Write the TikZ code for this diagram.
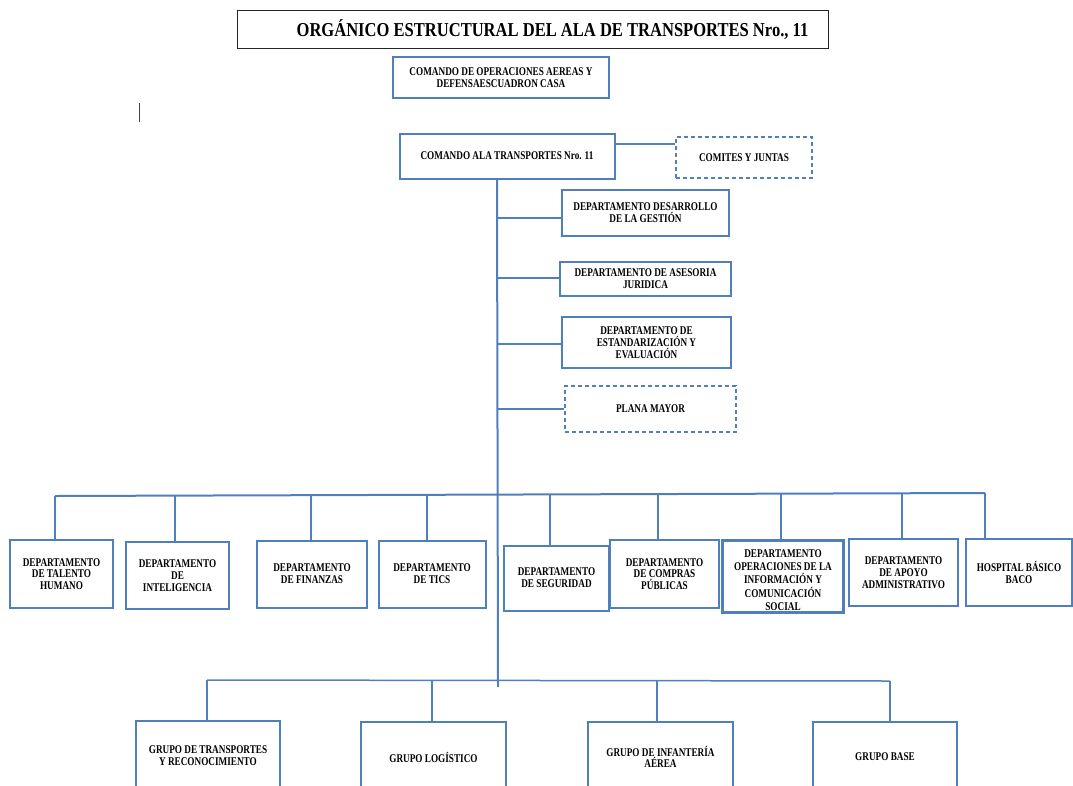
\documentclass[tikz,border=0pt]{standalone}
\usepackage{fontspec}
\newfontfamily\orgfont[FakeStretch=0.78]{Liberation Serif}
\newfontfamily\ttlfont[FakeStretch=0.84]{Liberation Serif}
\usetikzlibrary{calc}
\definecolor{blu}{HTML}{4F7FBC}
\begin{document}
\begin{tikzpicture}[x=1pt,y=-1pt,
  txt/.style={align=center,inner sep=0pt,font=\orgfont\bfseries\fontsize{11.8}{11.8}\selectfont},
  box/.style={txt,draw=blu,line width=2pt},
  dbox/.style={box,dash pattern=on 4pt off 3pt},
  conn/.style={draw=blu,line width=2pt},
  bconn/.style={draw=blu,line width=1.5pt}]
\useasboundingbox (0,0) rectangle (1073,785);
\clip (0,0) rectangle (1073,785);
% title
\node[draw=black!85,line width=0.9pt,minimum width=591pt,minimum height=38pt,inner sep=0pt] (title) at (532.5,29) {};
\node[txt,font=\ttlfont\bfseries\fontsize{19.7}{22}\selectfont] (titletext) at (552.5,29.5) {ORGÁNICO ESTRUCTURAL DEL ALA DE TRANSPORTES Nro., 11};
% top
\node[box,minimum width=216pt,minimum height=41pt] (cod) at (501,77.5) {COMANDO DE OPERACIONES AEREAS Y\\DEFENSAESCUADRON CASA};
\draw[black!75,line width=1pt] (139,103) -- (139,122);
\node[box,minimum width=215pt,minimum height=45pt] (cat) at (507,156) {COMANDO ALA TRANSPORTES Nro. 11};
\node[dbox,minimum width=136pt,minimum height=41pt] (cyj) at (744,157.5) {COMITES Y JUNTAS};
\coordinate (c1) at (cat.east |- 0,144);
\draw[conn] (c1) -- (c1 -| cyj.west);
% staff
\node[box,minimum width=167pt,minimum height=46pt] (des) at (645.5,213) {DEPARTAMENTO DESARROLLO\\DE LA GESTIÓN};
\node[box,minimum width=171pt,minimum height=34pt] (ase) at (645.5,279) {DEPARTAMENTO DE ASESORIA\\JURIDICA};
\node[box,minimum width=169pt,minimum height=51pt] (est) at (646.5,342.5) {DEPARTAMENTO DE\\ESTANDARIZACIÓN Y\\EVALUACIÓN};
\node[dbox,minimum width=171pt,minimum height=46pt] (pla) at (650.5,409) {PLANA MAYOR};
% trunk
\coordinate (ttop) at (497,178);
\coordinate (tbot) at (498,687);
\draw[conn] (ttop) -- (tbot);
\coordinate (j1) at (497,218);
\coordinate (j2) at (497,278);
\coordinate (j3) at (497,344);
\coordinate (j4) at (497,409);
\draw[conn] (j1) -- (j1 -| des.west);
\draw[conn] (j2) -- (j2 -| ase.west);
\draw[conn] (j3) -- (j3 -| est.west);
\draw[conn] (j4) -- (j4 -| pla.west);
% departments row
\node[box,minimum width=103pt,minimum height=68pt] (tal) at (61.5,574) {DEPARTAMENTO\\DE TALENTO\\HUMANO};
\node[box,minimum width=103pt,minimum height=67pt] (int) at (177.5,575.5) {DEPARTAMENTO\\DE\\INTELIGENCIA};
\node[box,minimum width=110pt,minimum height=67pt] (fin) at (312,574) {DEPARTAMENTO\\DE FINANZAS};
\node[box,minimum width=107pt,minimum height=67pt] (tic) at (432,574) {DEPARTAMENTO\\DE TICS};
\node[box,minimum width=105pt,minimum height=65pt] (seg) at (556.5,578) {DEPARTAMENTO\\DE SEGURIDAD};
\node[box,minimum width=109pt,minimum height=68pt] (cpr) at (664.5,574) {DEPARTAMENTO\\DE COMPRAS\\PÚBLICAS};
\node[box,minimum width=120pt,minimum height=71pt] (ope) at (783,576.5) {};
\begin{scope}
\clip (ope.south west) rectangle (ope.north east);
\node[txt,font=\orgfont\bfseries\fontsize{11.8}{13.4}\selectfont,anchor=north] (opetext) at ($(ope.north)+(0,9)$) {DEPARTAMENTO\\OPERACIONES DE LA\\INFORMACIÓN Y\\COMUNICACIÓN\\SOCIAL};
\end{scope}
\draw[blu,line width=2pt] (ope.south west) rectangle (ope.north east);
\node[box,minimum width=109pt,minimum height=67pt] (apo) at (903.5,572.5) {DEPARTAMENTO\\DE APOYO\\ADMINISTRATIVO};
\node[box,minimum width=106pt,minimum height=67pt] (hos) at (1019,572.5) {HOSPITAL BÁSICO\\BACO};
\coordinate (b1) at (55,496);
\coordinate (b2) at (175,495.5);
\coordinate (b3) at (311,495);
\coordinate (b4) at (427,495);
\coordinate (b5) at (550,494.5);
\coordinate (b6) at (658,494);
\coordinate (b7) at (781,494);
\coordinate (b8) at (902,493.5);
\coordinate (b9) at (985,493);
\draw[conn] (b1) -- (b9);
\draw[conn] (b1) -- (b1 |- tal.north);
\draw[conn] (b2) -- (b2 |- int.north);
\draw[conn] (b3) -- (b3 |- fin.north);
\draw[conn] (b4) -- (b4 |- tic.north);
\draw[conn] (b5) -- (b5 |- seg.north);
\draw[conn] (b6) -- (b6 |- cpr.north);
\draw[conn] (b7) -- (b7 |- ope.north);
\draw[conn] (b8) -- (b8 |- apo.north);
\draw[conn] (b9) -- (b9 |- hos.north);
% groups
\node[box,minimum width=144pt,minimum height=70pt] (gtr) at (208,756) {GRUPO DE TRANSPORTES\\Y RECONOCIMIENTO};
\node[box,minimum width=145pt,minimum height=70pt] (glo) at (433.5,757) {GRUPO LOGÍSTICO};
\node[box,minimum width=145pt,minimum height=70pt] (gin) at (660.5,757) {GRUPO DE INFANTERÍA\\AÉREA};
\node[box,minimum width=144pt,minimum height=70pt] (gba) at (885,757) {GRUPO BASE};
\coordinate (g1) at (207,680);
\coordinate (g2) at (432,680.5);
\coordinate (g3) at (657,681);
\coordinate (g4) at (890,681);
\draw[bconn] (g1) -- (g4);
\draw[bconn] (g1) -- (g1 |- gtr.north);
\draw[bconn] (g2) -- (g2 |- glo.north);
\draw[bconn] (g3) -- (g3 |- gin.north);
\draw[bconn] (g4) -- (g4 |- gba.north);
\end{tikzpicture}
\end{document}
